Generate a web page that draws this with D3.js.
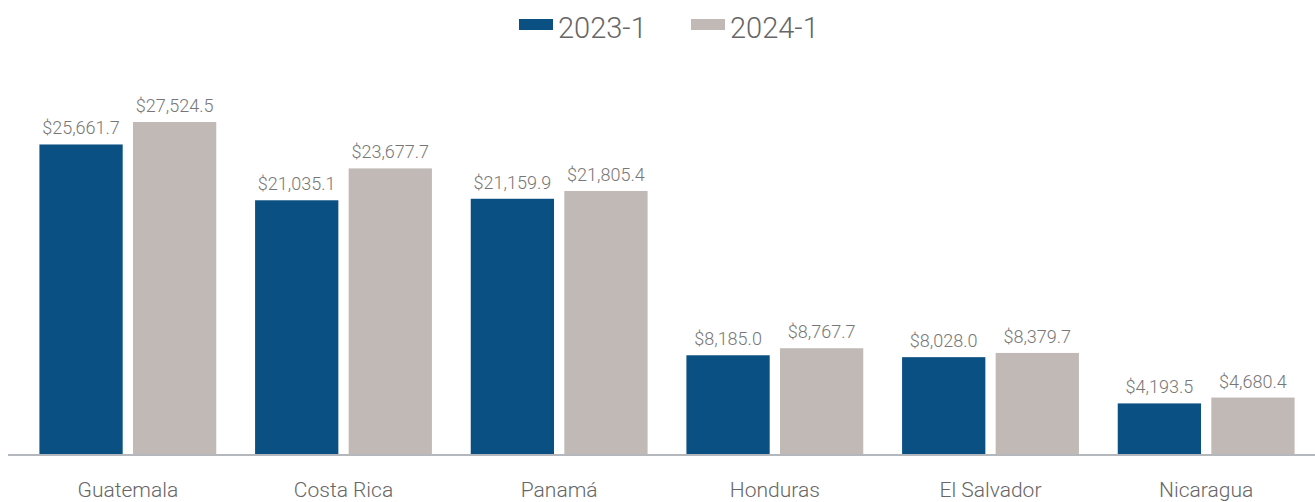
<!DOCTYPE html>
<html>
<head>
<meta charset="utf-8">
<script src="https://cdn.jsdelivr.net/npm/d3@7"></script>
<style>
  body { margin: 0; background: #fff; }
  text { font-family: Roboto, "Noto Sans", sans-serif; font-weight: 300; }
</style>
</head>
<body>
<svg id="chart" width="1315" height="502"></svg>
<script>
// values
var countries = ["Guatemala", "Costa Rica", "Panamá", "Honduras", "El Salvador", "Nicaragua"];
var periods = ["2023-1", "2024-1"];
var values2023 = [25661.7, 21035.1, 21159.9, 8185.0, 8028.0, 4193.5];
var values2024 = [27524.5, 23677.7, 21805.4, 8767.7, 8379.7, 4680.4];
var colors = ["#0a5082", "#c1b9b6"];

var svg = d3.select("#chart");
var width = 1315, baseY = 454, topY = 122;

var x0 = d3.scaleBand().domain(countries).range([20, 1314]).paddingInner(0.18).paddingOuter(0.09);
var x1 = d3.scaleBand().domain(periods).range([0, x0.bandwidth()]).paddingInner(0.11);
var y = d3.scaleLinear().domain([0, d3.max(values2024)]).range([baseY, topY]);

var series = [values2023, values2024];
var data = countries.map(function (c, i) {
  return { country: c, values: periods.map(function (p, k) { return { period: p, value: series[k][i], k: k }; }) };
});

var fmt = d3.format(",.1f");

var group = svg.selectAll(".grp").data(data).enter().append("g")
  .attr("class", "grp")
  .attr("transform", function (d) { return "translate(" + x0(d.country) + ",0)"; });

group.selectAll("rect").data(function (d) { return d.values; }).enter().append("rect")
  .attr("x", function (d) { return x1(d.period); })
  .attr("y", function (d) { return y(d.value); })
  .attr("width", x1.bandwidth())
  .attr("height", function (d) { return baseY - y(d.value); })
  .style("fill", function (d) { return colors[d.k]; });

group.selectAll(".lbl").data(function (d) { return d.values; }).enter().append("text")
  .attr("class", "lbl")
  .attr("x", function (d) { return x1(d.period) + x1.bandwidth() / 2; })
  .attr("y", function (d) { return y(d.value) - 10; })
  .attr("text-anchor", "middle")
  .style("font-size", "18px")
  .style("fill", "#777")
  .text(function (d) { return "$" + fmt(d.value); });

// baseline
svg.append("line")
  .attr("x1", 8).attr("x2", width)
  .attr("y1", baseY + 1).attr("y2", baseY + 1)
  .style("stroke", "#b4b8bc").style("stroke-width", 2);

// category labels
var xAxis = d3.axisBottom(x0).tickSize(0).tickPadding(28);
var ax = svg.append("g").attr("transform", "translate(0," + baseY + ")").call(xAxis);
ax.select(".domain").remove();
ax.selectAll("text")
  .style("font-size", "21px")
  .style("fill", "#666")
  .style("font-family", "Roboto, sans-serif")
  .style("font-weight", 300);

// legend
var legendX = [519, 691];
var legend = svg.selectAll(".leg").data(periods).enter().append("g")
  .attr("class", "leg")
  .attr("transform", function (d, i) { return "translate(" + legendX[i] + ",0)"; });
legend.append("rect")
  .attr("x", 0).attr("y", 19).attr("width", 34).attr("height", 11)
  .style("fill", function (d, i) { return colors[i]; });
legend.append("text")
  .attr("x", 39).attr("y", 38)
  .style("font-size", "29px")
  .style("fill", "#666")
  .text(function (d) { return d; });
</script>
</body>
</html>
